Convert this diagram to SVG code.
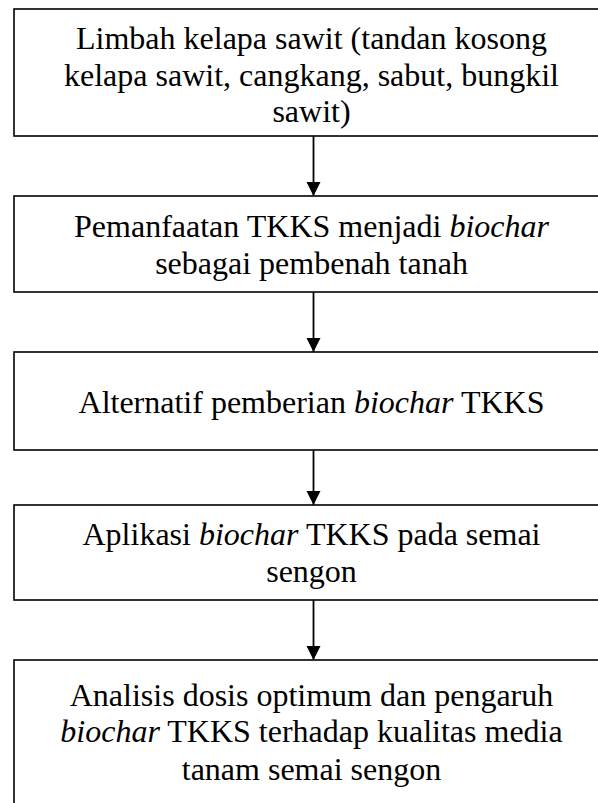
<svg xmlns="http://www.w3.org/2000/svg" width="598" height="803" viewBox="0 0 598 803">
<style>
.box{fill:#fff;stroke:#000;stroke-width:1.6}
.t{font-family:"Liberation Serif","Times New Roman",serif;font-size:32px;fill:#000;text-anchor:middle}
.i{font-style:italic}
.c{stroke:#000;stroke-width:1.8;fill:none}
</style>
<defs>
<marker id="ah" markerUnits="userSpaceOnUse" markerWidth="16" markerHeight="16" refX="14" refY="7" orient="auto">
<path d="M0,0 L14,7 L0,14 Z" fill="#000"/>
</marker>
</defs>
<rect width="598" height="803" fill="#fff"/>
<g id="n1">
<rect class="box" x="14" y="9" width="596" height="127"/>
<text class="t" x="311.5" y="49">Limbah kelapa sawit (tandan kosong</text>
<text class="t" x="311.5" y="85.5">kelapa sawit, cangkang, sabut, bungkil</text>
<text class="t" x="311.5" y="122">sawit)</text>
</g>
<g id="n2">
<rect class="box" x="14" y="196" width="596" height="96"/>
<text class="t" x="311.5" y="237">Pemanfaatan TKKS menjadi <tspan class="i">biochar</tspan></text>
<text class="t" x="311.5" y="274">sebagai pembenah tanah</text>
</g>
<g id="n3">
<rect class="box" x="14" y="352" width="596" height="98"/>
<text class="t" x="311.5" y="413">Alternatif pemberian <tspan class="i">biochar</tspan> TKKS</text>
</g>
<g id="n4">
<rect class="box" x="14" y="505" width="596" height="95"/>
<text class="t" x="311.5" y="545">Aplikasi <tspan class="i">biochar</tspan> TKKS pada semai</text>
<text class="t" x="311.5" y="582">sengon</text>
</g>
<g id="n5">
<rect class="box" x="14" y="660" width="596" height="160"/>
<text class="t" x="311.5" y="706">Analisis dosis optimum dan pengaruh</text>
<text class="t" x="311.5" y="742"><tspan class="i">biochar</tspan> TKKS terhadap kualitas media</text>
<text class="t" x="311.5" y="780">tanam semai sengon</text>
</g>
<g id="connectors">
<line class="c" x1="313.5" y1="136" x2="313.5" y2="196" marker-end="url(#ah)"/>
<line class="c" x1="313.5" y1="292" x2="313.5" y2="352" marker-end="url(#ah)"/>
<line class="c" x1="313.5" y1="450" x2="313.5" y2="505" marker-end="url(#ah)"/>
<line class="c" x1="313.5" y1="600" x2="313.5" y2="660" marker-end="url(#ah)"/>
</g>
</svg>
